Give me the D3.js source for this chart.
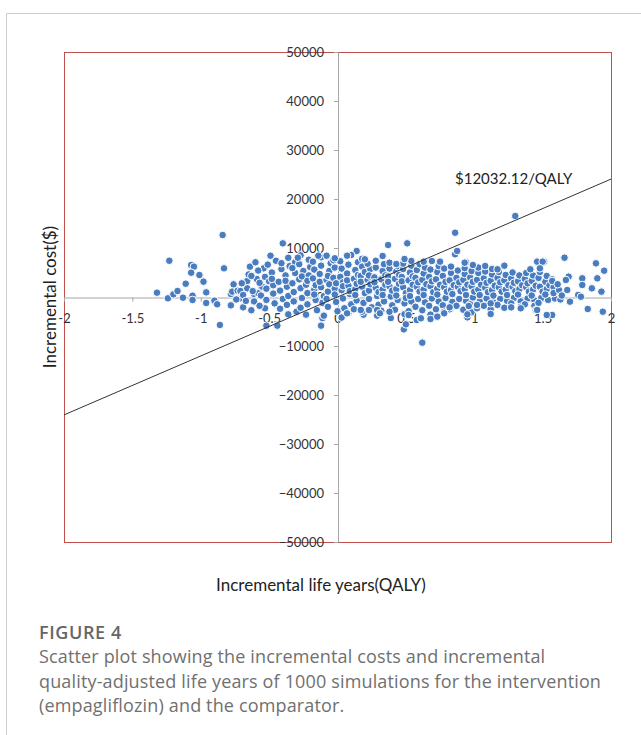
<html>
<head>
<meta charset="utf-8">
<title>Figure 4</title>
<script src="https://cdn.jsdelivr.net/npm/d3@7"></script>
<style>
    body { margin: 0; background: #fff; }
    .tick text { font-family: Lato, "Liberation Sans", sans-serif; font-size: 13px; fill: #333; }
    .title { font-family: Lato, "Liberation Sans", sans-serif; font-size: 17px; fill: #222; }
    .caption { font-family: "Open Sans", "Noto Sans", sans-serif; font-size: 18px; letter-spacing: 0.15px; fill: #707070; }
</style>
</head>
<body>
<div id="chart"></div>
<script>
// axis ticks
var xTicks = [-2, -1.5, -1, -0.5, 0, 0.5, 1, 1.5, 2];
var yTicks = [-50000, -40000, -30000, -20000, -10000, 0, 10000, 20000, 30000, 40000, 50000];

// ICER line (incremental QALY, incremental cost) and its label
var icerLine = [[-2, -24064.24], [2, 24064.24]];
var icerLabel = "$12032.12/QALY";

// simulations: [incremental QALY, incremental cost]
var tailLeft = [
    [-1.32, 880], [-1.23, 7400], [-1.24, -270], [-1.20, 550], [-1.17, 1220], [-1.13, -140],
    [-1.11, 2710], [-1.07, 6530], [-1.05, 6190], [-1.07, 4960], [-1.01, 4490], [-0.98, 3130],
    [-1.06, 270], [-1.06, -610], [-0.96, 950], [-0.96, -1220], [-0.90, -750], [-0.88, -1490],
    [-0.84, 12650], [-0.83, 5850], [-0.86, -5710], [-0.78, 610], [-0.78, -1700], [-0.76, 2580],
    [-0.77, 1090], [-0.73, 1290], [-0.71, 1220], [-0.69, -2110], [-0.71, -270], [-0.69, 410],
    [-0.66, 3270], [-0.64, 6190], [-0.60, 7080], [-0.59, 3670], [-0.56, 2240], [-0.61, 610],
    [-0.58, 750], [-0.66, 1770], [-0.54, 5850], [-0.53, -2310], [-0.74, -500], [-0.70, 2800],
    [-0.67, -800], [-0.65, 4600], [-0.63, -2700], [-0.55, 2100]
];

var outliers = [
    [-0.40, 10950], [-0.49, 8430], [-0.52, -5850], [-0.44, -5850], [-0.36, -3540], [-0.29, 8020],
    [-0.14, 8430], [-0.08, 8430], [-0.02, 7900], [-0.12, -5850], [-0.10, -3810], [0.14, 9390],
    [0.10, 8570], [0.20, 7690], [0.33, 8370], [0.07, -3330], [0.18, -3000], [0.23, -2650],
    [0.29, -2650], [0.86, 13120], [0.37, 10610], [0.51, 10950], [0.86, 8710], [0.875, 9390],
    [0.62, -9320], [0.485, -6600], [0.50, -5580], [0.95, -4150], [0.69, 7350], [0.75, 7210],
    [0.63, 7210], [0.54, 7350], [0.49, 7760], [0.43, 6730], [0.94, 7080], [0.68, -4490],
    [0.61, -4350], [0.78, -3330], [1.02, -1630], [1.12, -1290], [0.96, -1840], [0.93, 7000],
    [0.99, 6530], [1.08, 6330], [1.13, 5710], [1.17, 5650], [1.22, 6390], [1.46, 7210],
    [1.50, 7210], [1.48, 5850], [1.41, 5650], [0.95, -3540], [1.12, -3470], [1.27, -2110],
    [1.34, -2310], [1.46, -2650], [1.53, -3670], [0.17, -2650], [0.31, -3330], [0.38, -3000],
    [0.52, -3670], [0.73, -4010], [0.82, -2110], [0.07, 8430]
];

var coreNeg = [
    [-0.62, 1200], [-0.63, 4300], [-0.61, -900],
    [-0.57, 2900], [-0.58, 5400], [-0.56, 300], [-0.57, -1800],
    [-0.52, 1700], [-0.53, 4100], [-0.51, 6600], [-0.52, -600], [-0.50, 3200],
    [-0.47, 2400], [-0.48, 5000], [-0.46, -1300], [-0.47, 700], [-0.45, 7400], [-0.48, 3700],
    [-0.42, 1300], [-0.43, 3100], [-0.41, 5700], [-0.42, -2400], [-0.40, -400], [-0.41, 6900],
    [-0.37, 2100], [-0.38, 4400], [-0.36, 200], [-0.37, -1600], [-0.35, 6300], [-0.38, 3300], [-0.36, 8000],
    [-0.32, 1000], [-0.33, 2800], [-0.31, 4900], [-0.32, -900], [-0.30, -3000], [-0.31, 7100], [-0.33, 5900],
    [-0.27, 1800], [-0.28, 3600], [-0.26, -200], [-0.27, -2200], [-0.25, 5300], [-0.28, 6700], [-0.26, 4200], [-0.27, 8500],
    [-0.22, 800], [-0.23, 2500], [-0.21, 4400], [-0.22, -1500], [-0.20, 6100], [-0.23, -3600], [-0.21, 7600], [-0.22, 3300],
    [-0.17, 1500], [-0.18, 3800], [-0.16, -600], [-0.17, 5600], [-0.15, -2700], [-0.18, 7200], [-0.16, 2400], [-0.17, 500],
    [-0.12, 2000], [-0.13, 4700], [-0.11, -1200], [-0.12, 6400], [-0.10, 200], [-0.13, 3100], [-0.11, -4300], [-0.12, 8100],
    [-0.07, 1100], [-0.08, 3500], [-0.06, 5300], [-0.07, -2000], [-0.05, 6900], [-0.08, -400], [-0.06, 2600], [-0.07, 4300],
    [-0.02, 1700], [-0.03, 3900], [-0.01, -1000], [-0.02, 6000], [0.00, -2900], [-0.03, 7500], [-0.01, 2800], [-0.02, 500]
];

var corePosNear = [
    [0.03, 1400], [0.02, 4100], [0.04, -300], [0.03, 5800], [0.05, -2300], [0.02, 7300], [0.04, 3000], [0.03, -4200], [0.04, 2200],
    [0.08, 2300], [0.07, 4800], [0.09, 600], [0.08, 6600], [0.10, -1500], [0.07, 3400], [0.09, 8600], [0.08, -3300], [0.09, 1200],
    [0.13, 1600], [0.12, 3700], [0.14, -700], [0.13, 5500], [0.15, 7100], [0.12, -2500], [0.14, 2700], [0.13, 400], [0.15, 4500],
    [0.18, 2100], [0.17, 4300], [0.19, -1200], [0.18, 6200], [0.20, 800], [0.17, 3100], [0.19, -3600], [0.18, 7800], [0.20, 5100],
    [0.23, 1300], [0.22, 3500], [0.24, 5700], [0.23, -400], [0.25, -2100], [0.22, 6800], [0.24, 2600], [0.23, 4400],
    [0.28, 1900], [0.27, 4000], [0.29, 200], [0.28, 6000], [0.30, -1600], [0.27, 3000], [0.29, -3800], [0.28, 7400], [0.30, 1000],
    [0.33, 1500], [0.32, 3600], [0.34, -900], [0.33, 5300], [0.35, 2500], [0.32, -2800], [0.34, 6700], [0.33, 400], [0.35, 4400],
    [0.38, 2200], [0.37, 4200], [0.39, 100], [0.38, 5800], [0.40, -1700], [0.37, 3100], [0.39, -4300], [0.38, 7000], [0.40, 1300],
    [0.43, 1600], [0.42, 3700], [0.44, -600], [0.43, 5200], [0.45, 2700], [0.42, -2600], [0.44, 6300], [0.43, 300], [0.45, 4500],
    [0.48, 2000], [0.47, 4100], [0.49, -1300], [0.48, 5700], [0.50, 800], [0.47, 3200], [0.49, -3500], [0.48, 6800], [0.50, -200],
    [0.53, 1400], [0.52, 3400], [0.54, -900], [0.53, 5000], [0.55, 2500], [0.52, -2900], [0.54, 6400], [0.53, 200], [0.55, 4200],
    [0.58, 2100], [0.57, 3900], [0.59, -400], [0.58, 5500], [0.60, 1100], [0.57, -2000], [0.59, 3000], [0.58, -4700], [0.60, 6700],
    [0.63, 1500], [0.62, 3500], [0.64, -1100], [0.63, 4800], [0.65, 2600], [0.62, -2700], [0.64, 6000], [0.63, 400],
    [0.68, 2200], [0.67, 4100], [0.69, -300], [0.68, 5600], [0.70, 1000], [0.67, -1800], [0.69, 3200], [0.68, -3600],
    [0.73, 1700], [0.72, 3600], [0.74, -900], [0.73, 5100], [0.75, 2500], [0.72, -2500], [0.74, 6300], [0.73, 500],
    [0.78, 2000], [0.77, 4300], [0.79, -200], [0.78, 5800], [0.80, 1100], [0.77, -1700], [0.79, 3100], [0.78, -3000]
];

var corePosFar = [
    [0.83, 1400], [0.82, 3400], [0.84, -1000], [0.83, 4900], [0.85, 2400], [0.82, -2500], [0.84, 600], [0.83, 6200],
    [0.88, 2100], [0.87, 3900], [0.89, -400], [0.88, 5400], [0.90, 1200], [0.87, -1800], [0.89, 3000],
    [0.93, 1600], [0.92, 3500], [0.94, -800], [0.93, 4700], [0.95, 2500], [0.92, -2600], [0.94, 400], [0.93, 5900],
    [0.98, 2200], [0.97, 4000], [0.99, -100], [0.98, 5300], [1.00, 1100], [0.97, -1500], [0.99, 3100], [0.98, -3100],
    [1.03, 1500], [1.02, 3500], [1.04, -900], [1.03, 4900], [1.05, 2500], [1.02, -2300], [1.04, 400], [1.03, 6000],
    [1.08, 1900], [1.07, 3800], [1.09, -300], [1.08, 5200], [1.10, 1000], [1.07, -1800], [1.09, 2900],
    [1.13, 1400], [1.12, 3300], [1.14, -1100], [1.13, 4600], [1.15, 2300], [1.12, -2500], [1.14, 300], [1.13, 5800],
    [1.18, 2000], [1.17, 3900], [1.19, -400], [1.18, 5100], [1.20, 1100], [1.17, -1600], [1.19, 3000],
    [1.23, 1500], [1.22, 3400], [1.24, -800], [1.23, 4500], [1.25, 2400], [1.22, -2200], [1.24, 400],
    [1.28, 2100], [1.27, 3800], [1.29, -200], [1.28, 5000], [1.30, 1200], [1.27, -1300], [1.29, 2900],
    [1.33, 1600], [1.32, 3200], [1.34, -900], [1.33, 4400], [1.35, 2400], [1.32, 500], [1.34, -2000],
    [1.38, 2000], [1.37, 3700], [1.39, -300], [1.38, 4900], [1.40, 1100], [1.37, -1500], [1.39, 2800],
    [1.43, 1500], [1.42, 3300], [1.44, -700], [1.43, 4400], [1.45, 2300], [1.42, 300], [1.44, -1800],
    [1.48, 2100], [1.47, 3900], [1.49, -200], [1.48, 5100], [1.50, 1100], [1.47, -1200],
    [1.53, 1600], [1.52, 3100], [1.54, -600], [1.53, 4300], [1.55, 2400], [1.52, 500],
    [1.58, 2000], [1.57, 3600], [1.59, -300], [1.58, 800]
];

var tailRight = [
    [1.30, 16530], [1.66, 8020], [1.89, 6870], [1.95, 5370], [1.83, -2450], [1.94, -3000],
    [1.70, -950], [1.76, 410], [1.79, 3810], [1.79, 2450], [1.86, 1770], [1.93, 1090],
    [1.90, 3810], [1.69, 4150], [1.68, 1430], [1.62, 1430], [1.57, 3270], [1.51, 7210],
    [1.57, -3670], [1.45, -2650], [1.67, 3470], [1.78, 60], [1.63, -500], [1.61, 2600], [1.64, 300]
];

var captionLines = [
    "Scatter plot showing the incremental costs and incremental",
    "quality-adjusted life years of 1000 simulations for the intervention",
    "(empagliflozin) and the comparator."
];

var W = 641, H = 735;
var svg = d3.select("#chart").append("svg")
    .attr("width", W)
    .attr("height", H);

svg.append("rect").attr("width", W).attr("height", H).attr("fill", "#fff");

// page frame
svg.append("path")
    .attr("d", "M6.5,735V13.5H641")
    .attr("fill", "none")
    .attr("stroke", "#cfcfcf");

var x = d3.scaleLinear().domain([-2, 2]).range([64, 611]);
var y = d3.scaleLinear().domain([-50000, 50000]).range([542, 52]);

// plot area border
svg.append("rect")
    .attr("x", x(-2) + 0.5)
    .attr("y", y(50000) + 0.5)
    .attr("width", x(2) - x(-2))
    .attr("height", y(-50000) - y(50000))
    .attr("fill", "none")
    .attr("stroke", "#c0504d");

// x-axis
var gx = svg.append("g")
    .attr("transform", "translate(0," + (y(0) + 0.5) + ")")
    .call(d3.axisBottom(x).tickValues(xTicks).tickSize(4).tickSizeOuter(0).tickPadding(12)
        .tickFormat(function(d) { return d; }));

// y-axis
var gy = svg.append("g")
    .attr("transform", "translate(" + (x(0) + 0.5) + ",0)")
    .call(d3.axisLeft(y).tickValues(yTicks).tickSize(4).tickSizeOuter(0).tickPadding(10)
        .tickFormat(d3.format("d")));

[gx, gy].forEach(function(g) {
    g.select(".domain").attr("stroke", "#a6a6a6");
    g.selectAll(".tick line").attr("stroke", "#a6a6a6");
    g.selectAll(".tick text").attr("font-family", null).attr("font-size", null);
});

// points
var points = tailLeft.concat(coreNeg, corePosNear, corePosFar, tailRight, outliers);
svg.append("g").selectAll(".dot")
    .data(points)
    .enter()
    .append("circle")
    .attr("class", "dot")
    .attr("r", 3.8)
    .attr("cx", function(d) { return x(d[0]); })
    .attr("cy", function(d) { return y(d[1]); })
    .attr("fill", "#4a7dc0")
    .attr("stroke", "#fff")
    .attr("stroke-width", 1);

// ICER line
var line = d3.line()
    .x(function(d) { return x(d[0]); })
    .y(function(d) { return y(d[1]); });

svg.append("path")
    .attr("d", line(icerLine))
    .attr("fill", "none")
    .attr("stroke", "#333")
    .attr("stroke-width", 1);

svg.append("text")
    .attr("class", "title")
    .attr("x", 455)
    .attr("y", 184)
    .style("font-size", "15px")
    .text(icerLabel);

// axis titles
svg.append("text")
    .attr("class", "title")
    .attr("x", 321)
    .attr("y", 591)
    .attr("text-anchor", "middle")
    .text("Incremental life years(QALY)");

svg.append("text")
    .attr("class", "title")
    .attr("transform", "translate(56,297) rotate(-90)")
    .attr("text-anchor", "middle")
    .text("Incremental cost($)");

// caption
svg.append("text")
    .attr("class", "caption")
    .attr("x", 39)
    .attr("y", 639)
    .style("font-weight", 600)
    .style("letter-spacing", "0.6px")
    .style("fill", "#666")
    .text("FIGURE 4");

svg.selectAll(".capline")
    .data(captionLines)
    .enter()
    .append("text")
    .attr("class", "caption capline")
    .attr("x", 39)
    .attr("y", function(d, i) { return 663 + i * 24.5; })
    .text(function(d) { return d; });
</script>
</body>
</html>
